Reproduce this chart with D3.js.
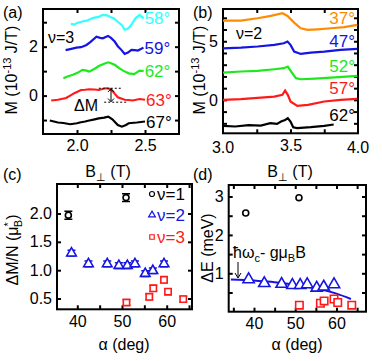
<!DOCTYPE html>
<html>
<head>
<meta charset="utf-8">
<script src="https://cdn.jsdelivr.net/npm/d3@7"></script>
<style>
  body { margin: 0; background: #fff; }
  svg { display: block; font-family: "Liberation Sans", Arial, sans-serif; }
</style>
</head>
<body>
<div id="chart"></div>
<script>
// ---- panel (a): nu=3 magnetization traces ----
const aAngles = ["58°", "59°", "62°", "63°", "67°"];
const aColors = ["#33ffff", "#1515e0", "#1ee81e", "#ff1a1a", "#000000"];
const aB = [
  [1.955, 1.98, 2.0, 2.04, 2.08, 2.12, 2.16, 2.19, 2.22, 2.25, 2.27, 2.3, 2.33, 2.35, 2.37, 2.39, 2.41, 2.43, 2.46, 2.49],
  [1.916, 1.95, 1.996, 2.03, 2.07, 2.1, 2.143, 2.17, 2.19, 2.228, 2.25, 2.277, 2.3, 2.326, 2.35, 2.375, 2.4, 2.425, 2.448, 2.489],
  [1.9, 1.93, 1.97, 2.0, 2.04, 2.07, 2.09, 2.13, 2.16, 2.2, 2.23, 2.26, 2.28, 2.31, 2.33, 2.36, 2.38, 2.42, 2.46, 2.49],
  [1.81, 1.86, 1.92, 1.95, 1.98, 2.03, 2.06, 2.09, 2.13, 2.16, 2.21, 2.24, 2.26, 2.28, 2.3, 2.35, 2.38, 2.41, 2.46, 2.5],
  [1.8, 1.83, 1.86, 1.9, 1.95, 2.0, 2.02, 2.06, 2.09, 2.13, 2.16, 2.2, 2.23, 2.26, 2.3, 2.33, 2.36, 2.38, 2.44, 2.5]
];
const aM = [
  [2.93, 2.9, 2.97, 3.03, 3.08, 3.18, 3.22, 3.3, 3.28, 3.2, 3.16, 3.02, 2.88, 2.7, 2.72, 2.82, 2.98, 3.16, 3.3, 3.16],
  [1.86, 1.9, 1.96, 1.98, 2.07, 2.2, 2.41, 2.36, 2.34, 2.44, 2.36, 2.21, 2.02, 1.87, 1.7, 1.76, 1.87, 1.86, 1.84, 1.96],
  [0.71, 0.78, 0.85, 0.92, 1.05, 1.02, 0.98, 1.1, 1.21, 1.3, 1.36, 1.3, 1.25, 1.12, 1.05, 0.96, 0.91, 0.88, 1.02, 1.0],
  [-0.2, -0.17, -0.1, 0.0, 0.1, 0.23, 0.24, 0.26, 0.25, 0.23, 0.3, 0.28, 0.2, 0.06, -0.07, -0.17, -0.18, -0.2, -0.14, -0.17],
  [-1.02, -1.06, -1.1, -1.12, -1.17, -1.13, -1.1, -1.06, -1.02, -0.97, -0.93, -0.9, -0.86, -0.97, -1.2, -1.27, -1.2, -1.13, -1.1, -1.06]
];

// ---- panel (b): nu=2 magnetization traces ----
const bAngles = ["37°", "47°", "52°", "57°", "62°"];
const bColors = ["#ff8c00", "#1515e0", "#1ee81e", "#ff1a1a", "#000000"];
const bB = [
  [3.0, 3.133, 3.256, 3.355, 3.441, 3.478, 3.527, 3.576, 3.626, 3.7, 3.8, 3.897, 3.995],
  [3.0, 3.133, 3.256, 3.38, 3.45, 3.478, 3.5, 3.527, 3.576, 3.65, 3.75, 3.87, 3.995],
  [3.0, 3.133, 3.256, 3.38, 3.45, 3.48, 3.5, 3.54, 3.576, 3.68, 3.8, 3.995],
  [3.0, 3.133, 3.256, 3.38, 3.44, 3.46, 3.48, 3.5, 3.55, 3.63, 3.75, 3.87, 3.995],
  [3.0, 3.09, 3.19, 3.28, 3.35, 3.4, 3.43, 3.46, 3.48, 3.5, 3.52, 3.55, 3.65, 3.75, 3.82]
];
const bM = [
  [6.76, 6.76, 6.96, 7.16, 7.39, 7.16, 6.59, 6.11, 5.97, 6.02, 6.11, 6.2, 6.39],
  [4.4, 4.46, 4.55, 4.69, 4.83, 4.97, 4.69, 4.12, 3.92, 4.03, 4.12, 4.26, 4.35],
  [2.33, 2.42, 2.47, 2.61, 2.7, 2.84, 2.5, 1.85, 1.76, 1.82, 1.9, 2.05],
  [0.0, 0.06, 0.17, 0.28, 0.43, 0.8, 0.43, -0.14, -0.51, -0.43, -0.14, 0.0, 0.09],
  [-2.22, -2.27, -2.16, -2.19, -1.99, -2.05, -1.85, -1.71, -1.56, -1.85, -2.33, -2.41, -2.33, -2.22, -2.1]
];

// ---- panels (c) and (d): per-angle results ----
const nu1Alpha = [38.0, 50.9];
const nu1DM = [1.97, 2.28];
const nu1DE = [2.57, 2.97];
const nu2Alpha = [38.7, 42.5, 46.7, 49.3, 51.2, 52.9, 55.2, 56.9, 59.4];
const nu2DM = [1.30, 1.11, 1.11, 1.08, 1.08, 1.11, 0.94, 0.99, 1.11];
const nu2DE = [0.84, 0.74, 0.72, 0.69, 0.69, 0.71, 0.62, 0.65, 0.71];
const nu3Alpha = [51.0, 56.1, 57.0, 59.4, 60.3, 63.7];
const nu3DM = [0.43, 0.53, 0.68, 0.83, 0.62, 0.49];
const nu3DE = [0.17, 0.22, 0.28, 0.33, 0.24, 0.17];
const fitAlpha = [34.4, 40, 45, 50, 55, 60, 63.5];
const fitDE = [0.84, 0.81, 0.77, 0.70, 0.61, 0.47, 0.33];

const svg = d3.select("#chart").append("svg")
  .attr("width", 382).attr("height", 361);

// frame with inward ticks on all four sides
function makePanel(xd, xr, yd, yr, xTicks, xLab, yTicks, yLab, xFmt, yFmt) {
  const x = d3.scaleLinear().domain(xd).range(xr);
  const y = d3.scaleLinear().domain(yd).range(yr);
  const g = svg.append("g");
  const fx = v => xLab.includes(v) ? xFmt(v) : "";
  const fy = v => yLab.includes(v) ? yFmt(v) : "";
  g.append("g").attr("transform", `translate(0,${yr[0]})`)
    .call(d3.axisBottom(x).tickValues(xTicks).tickSize(-4).tickPadding(6).tickFormat(fx));
  g.append("g").attr("transform", `translate(0,${yr[1]})`)
    .call(d3.axisTop(x).tickValues(xTicks).tickSize(-4).tickFormat(""));
  g.append("g").attr("transform", `translate(${xr[0]},0)`)
    .call(d3.axisLeft(y).tickValues(yTicks).tickSize(-4).tickPadding(5).tickFormat(fy));
  g.append("g").attr("transform", `translate(${xr[1]},0)`)
    .call(d3.axisRight(y).tickValues(yTicks).tickSize(-4).tickFormat(""));
  g.selectAll(".domain").remove();
  g.selectAll(".tick line").attr("stroke", "#000").attr("stroke-width", 2);
  g.selectAll(".tick text").attr("font-size", 16).attr("fill", "#000")
    .attr("font-family", "Liberation Sans, Arial, sans-serif");
  g.append("rect")
    .attr("x", xr[0]).attr("y", yr[1])
    .attr("width", xr[1] - xr[0]).attr("height", yr[0] - yr[1])
    .attr("fill", "none").attr("stroke", "#000").attr("stroke-width", 2);
  return {g, x, y};
}

function label(g, txt, x, y, opts = {}) {
  return g.append("text").attr("x", x).attr("y", y)
    .attr("font-size", opts.size || 16)
    .attr("fill", opts.color || "#000")
    .attr("text-anchor", opts.anchor || "start")
    .text(txt);
}

// M axis title with superscript exponent
function mTitle(g, cx, cy) {
  const t = g.append("text").attr("transform", `translate(${cx},${cy}) rotate(-90)`)
    .attr("text-anchor", "middle").attr("font-size", 16);
  t.append("tspan").text("M (10");
  t.append("tspan").attr("font-size", 11).attr("dy", -6).text("-13");
  t.append("tspan").attr("dy", 6).text(" J/T)");
}

function bTitle(g, cx, cy) {
  const t = g.append("text").attr("x", cx).attr("y", cy)
    .attr("text-anchor", "middle").attr("font-size", 16);
  t.append("tspan").text("B");
  t.append("tspan").attr("font-size", 11).attr("dy", 4).text("⊥");
  t.append("tspan").attr("dy", -4).text(" (T)");
}

const line = (x, y) => d3.line().x(d => x(d[0])).y(d => y(d[1]));

// ---- (a) ----
const pa = makePanel([1.75, 2.75], [43, 179], [-1.57, 3.54], [134, 9],
  [2.0, 2.25, 2.5], [2.0, 2.5], [-1, 0, 1, 2, 3], [0, 2], d3.format(".1f"), d3.format("d"));
aB.forEach((bs, i) => {
  pa.g.append("path").datum(bs.map((b, k) => [b, aM[i][k]]))
    .attr("d", line(pa.x, pa.y)).attr("fill", "none")
    .attr("stroke", aColors[i]).attr("stroke-width", 2.2);
  const last = bs.length - 1;
  label(pa.g, aAngles[i], pa.x(bs[last]) + 1, pa.y(aM[i][last]) + 6, {size: 17, color: aColors[i]});
});
// Delta M marker on the 63 degree trace
pa.g.append("line").attr("x1", pa.x(2.16)).attr("x2", pa.x(2.33))
  .attr("y1", pa.y(0.3)).attr("y2", pa.y(0.3))
  .attr("stroke", "#000").attr("stroke-width", 1).attr("stroke-dasharray", "2,2");
pa.g.append("line").attr("x1", pa.x(2.2)).attr("x2", pa.x(2.37))
  .attr("y1", pa.y(-0.27)).attr("y2", pa.y(-0.27))
  .attr("stroke", "#000").attr("stroke-width", 1).attr("stroke-dasharray", "2,2");
pa.g.append("line").attr("x1", pa.x(2.25)).attr("x2", pa.x(2.25))
  .attr("y1", pa.y(0.28)).attr("y2", pa.y(-0.25))
  .attr("stroke", "#000").attr("stroke-width", 1);
pa.g.append("path").attr("d", `M${pa.x(2.25) - 3},${pa.y(0.15)}L${pa.x(2.25)},${pa.y(0.28)}L${pa.x(2.25) + 3},${pa.y(0.15)}M${pa.x(2.25) - 3},${pa.y(-0.12)}L${pa.x(2.25)},${pa.y(-0.25)}L${pa.x(2.25) + 3},${pa.y(-0.12)}`)
  .attr("fill", "none").attr("stroke", "#000").attr("stroke-width", 1);
label(pa.g, "ΔM", 74, 111, {size: 16});
label(pa.g, "ν=3", 48, 43, {size: 16});
mTitle(pa.g, 17, 70);
bTitle(pa.g, 108, 177);
label(svg, "(a)", 3, 18, {size: 16});

// ---- (b) ----
const pb = makePanel([3.0, 4.0], [223, 358], [-2.85, 7.75], [133.3, 9],
  [3.25, 3.5, 3.75], [3.0, 3.5, 4.0], [-2, -1, 0, 1, 2, 3, 4, 5, 6, 7], [0, 5], d3.format(".1f"), d3.format("d"));
// end labels on the frame corners
[3.0, 4.0].forEach(v => label(pb.g, v.toFixed(1), pb.x(v), 133.3 + 20, {anchor: "middle"}));
bB.forEach((bs, i) => {
  pb.g.append("path").datum(bs.map((b, k) => [b, bM[i][k]]))
    .attr("d", line(pb.x, pb.y)).attr("fill", "none")
    .attr("stroke", bColors[i]).attr("stroke-width", 2.2);
});
const bLabY = [7.0, 5.0, 2.9, 1.0, -1.3];
bAngles.forEach((a, i) => label(pb.g, a, 355, pb.y(bLabY[i]) + 6, {size: 17, color: bColors[i], anchor: "end"}));
label(pb.g, "ν=2", 236, 39, {size: 16});
mTitle(pb.g, 205, 70);
bTitle(pb.g, 290, 177);
label(svg, "(b)", 193, 18, {size: 16});

// ---- (c) ----
const pc = makePanel([35.46, 65.66], [57, 192], [0.31, 2.52], [309.3, 184],
  [40, 45, 50, 55, 60, 65], [40, 50, 60], [0.5, 1.0, 1.5, 2.0], [0.5, 1.0, 1.5, 2.0], d3.format("d"), d3.format(".1f"));

function errBars(p, xs, ys, err, color) {
  xs.forEach((a, k) => {
    const cx = p.x(a);
    p.g.append("path")
      .attr("d", `M${cx - 4},${p.y(ys[k] + err)}H${cx + 4}M${cx},${p.y(ys[k] + err)}V${p.y(ys[k] - err)}M${cx - 4},${p.y(ys[k] - err)}H${cx + 4}`)
      .attr("stroke", color).attr("stroke-width", 1.5).attr("fill", "none");
  });
}
function markers(p, xs, ys, type, color, size) {
  p.g.append("g").selectAll("path").data(xs.map((a, k) => [a, ys[k]])).join("path")
    .attr("transform", d => `translate(${p.x(d[0])},${p.y(d[1])})`)
    .attr("d", d3.symbol().type(type).size(size))
    .attr("fill", "#fff").attr("stroke", color).attr("stroke-width", 1.6);
}
errBars(pc, nu1Alpha, nu1DM, 0.07, "#000");
markers(pc, nu1Alpha, nu1DM, d3.symbolCircle, "#000", 28);
errBars(pc, nu2Alpha, nu2DM, 0.05, "#1515e0");
markers(pc, nu2Alpha, nu2DM, d3.symbolTriangle, "#1515e0", 40);
errBars(pc, nu3Alpha, nu3DM, 0.05, "#ff1a1a");
markers(pc, nu3Alpha, nu3DM, d3.symbolSquare, "#ff1a1a", 40);
// legend
const legC = [["ν=1", "#000", d3.symbolCircle, 194], ["ν=2", "#1515e0", d3.symbolTriangle, 215], ["ν=3", "#ff1a1a", d3.symbolSquare, 237]];
legC.forEach(([t, c, s, yy]) => {
  svg.append("path").attr("transform", `translate(152,${yy})`)
    .attr("d", d3.symbol().type(s).size(20)).attr("fill", "#fff").attr("stroke", c).attr("stroke-width", 1.2);
  label(svg, t, 157, yy + 6, {size: 17, color: c});
});
{
  const t = pc.g.append("text").attr("transform", "translate(18,250) rotate(-90)")
    .attr("text-anchor", "middle").attr("font-size", 16);
  t.append("tspan").text("ΔM/N (μ");
  t.append("tspan").attr("font-size", 11).attr("dy", -6).text("*");
  t.append("tspan").attr("font-size", 11).attr("dy", 10).attr("dx", -5).text("B");
  t.append("tspan").attr("dy", -4).text(")");
}
label(pc.g, "α (deg)", 124, 350, {anchor: "middle"});
label(svg, "(c)", 3, 180, {size: 16});

// ---- (d) ----
const pd = makePanel([33.87, 67.15], [228.7, 366], [0, 3.3], [311.7, 185],
  [35, 40, 45, 50, 55, 60, 65], [40, 50, 60], [0.5, 1, 1.5, 2, 2.5, 3], [1, 2, 3], d3.format("d"), d3.format("d"));
pd.g.append("path").datum(fitAlpha.map((a, k) => [a, fitDE[k]]))
  .attr("d", d3.line().curve(d3.curveMonotoneX).x(d => pd.x(d[0])).y(d => pd.y(d[1])))
  .attr("fill", "none").attr("stroke", "#1515e0").attr("stroke-width", 2);
markers(pd, nu1Alpha, nu1DE, d3.symbolCircle, "#000", 28);
markers(pd, nu2Alpha, nu2DE, d3.symbolTriangle, "#1515e0", 55);
markers(pd, nu3Alpha, nu3DE, d3.symbolSquare, "#ff1a1a", 55);
{
  const t = pd.g.append("text").attr("x", 233).attr("y", 258).attr("font-size", 16);
  t.append("tspan").text("ħω");
  t.append("tspan").attr("font-size", 11).attr("dy", 4).text("c");
  t.append("tspan").attr("dy", -4).text("- gμ");
  t.append("tspan").attr("font-size", 11).attr("dy", 4).text("B");
  t.append("tspan").attr("dy", -4).text("B");
}
pd.g.append("line").attr("x1", 238).attr("y1", 262).attr("x2", 238).attr("y2", 277)
  .attr("stroke", "#000").attr("stroke-width", 1);
pd.g.append("path").attr("d", "M235,273L238,278L241,273").attr("fill", "none").attr("stroke", "#000").attr("stroke-width", 1);
{
  const t = pd.g.append("text").attr("transform", "translate(213,248) rotate(-90)")
    .attr("text-anchor", "middle").attr("font-size", 16);
  t.text("ΔE (meV)");
}
label(pd.g, "α (deg)", 297, 350, {anchor: "middle"});
label(svg, "(d)", 193, 180, {size: 16});
</script>
</body>
</html>
